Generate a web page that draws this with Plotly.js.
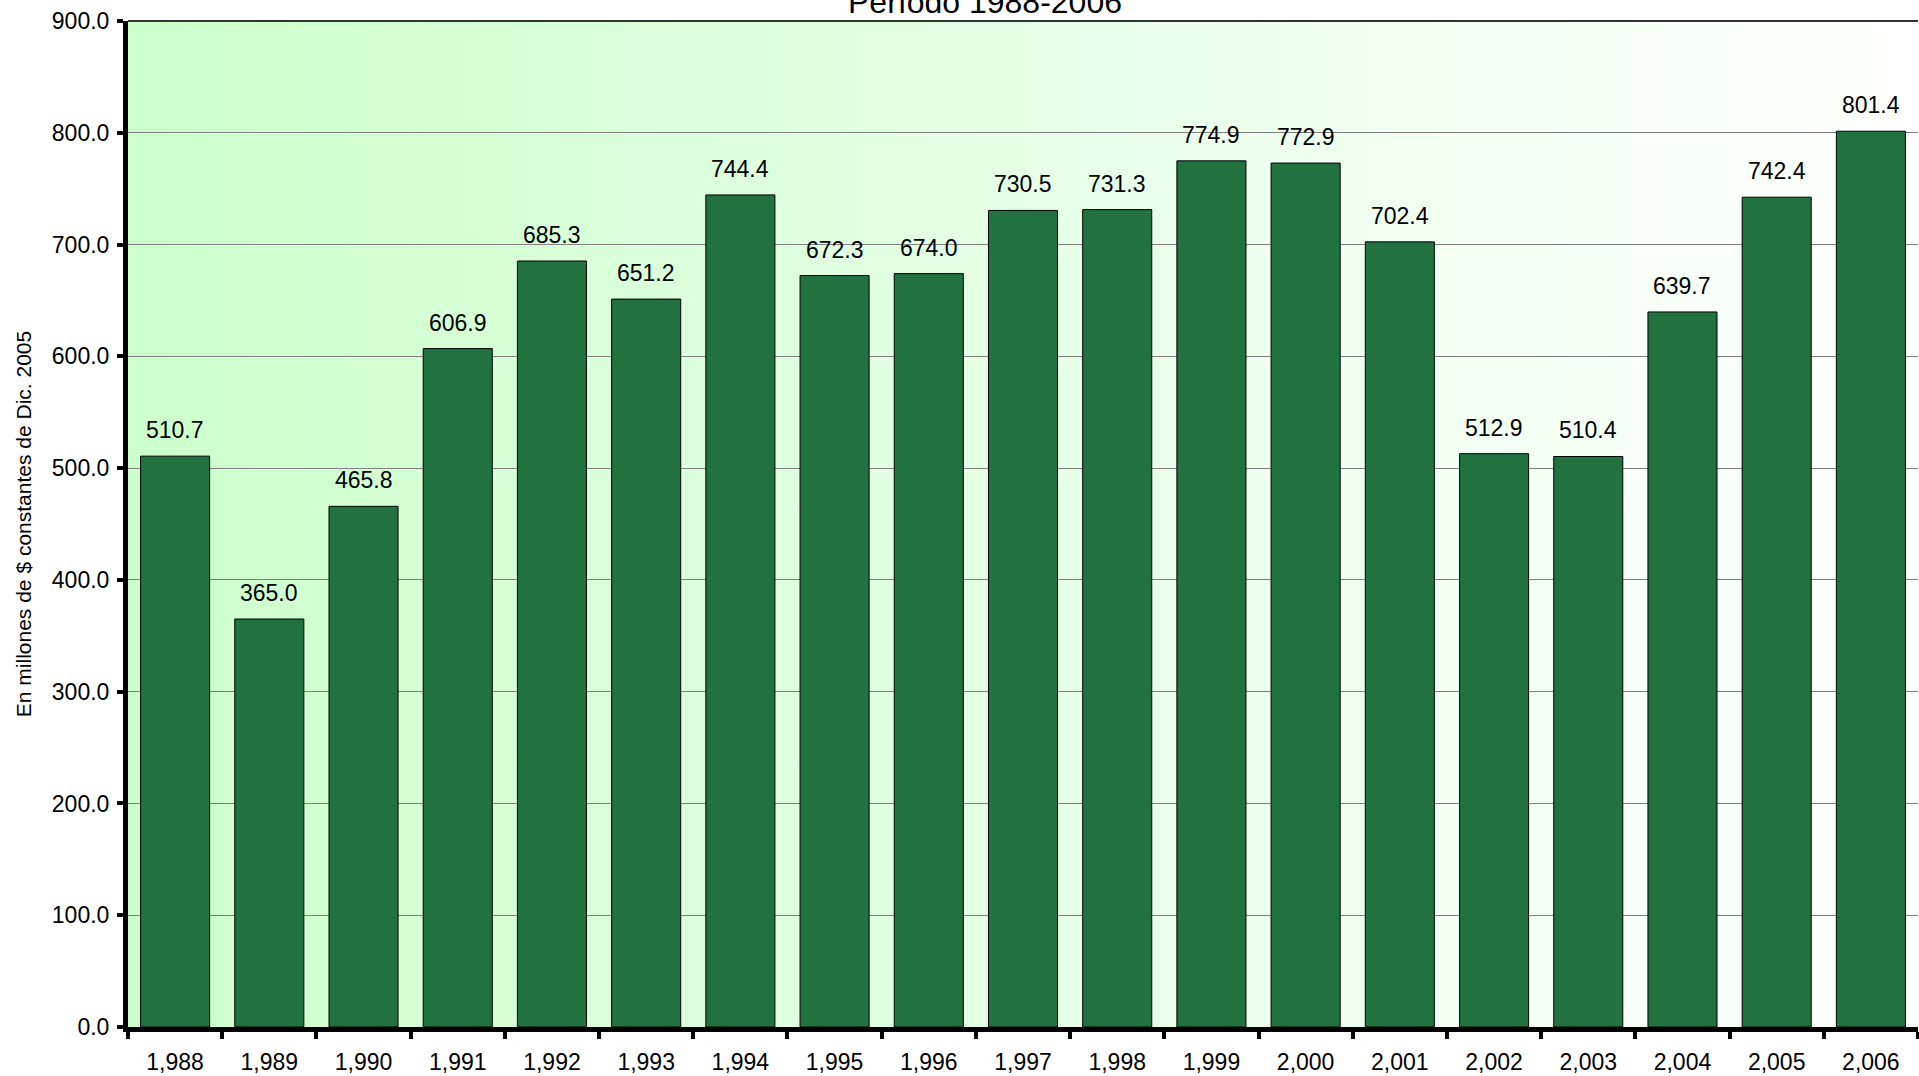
<!DOCTYPE html>
<html>
<head>
<meta charset="utf-8">
<script src="https://cdn.plot.ly/plotly-3.0.1.min.js"></script>
<style>
  html, body { margin: 0; padding: 0; background: #ffffff; }
  #chart { width: 1919px; height: 1076px; }
</style>
</head>
<body>
<div id="chart"></div>
<script>
// ---- data ----
const years = ["1,988", "1,989", "1,990", "1,991", "1,992", "1,993", "1,994", "1,995", "1,996", "1,997",
               "1,998", "1,999", "2,000", "2,001", "2,002", "2,003", "2,004", "2,005", "2,006"];
const values = [510.7, 365.0, 465.8, 606.9, 685.3, 651.2, 744.4, 672.3, 674.0, 730.5,
                731.3, 774.9, 772.9, 702.4, 512.9, 510.4, 639.7, 742.4, 801.4];
const chartTitle = "Período 1988-2006";
const yTitle = "En millones de $ constantes de Dic. 2005";

// ---- style ----
const FONT = "Liberation Sans, Arial, Helvetica, sans-serif";
const BAR_COLOR = "#21723F";

const gradSvg = "<svg xmlns='http://www.w3.org/2000/svg' width='200' height='100' preserveAspectRatio='none'>" +
  "<defs><linearGradient id='g' x1='0' y1='0' x2='1' y2='0'>" +
  "<stop offset='0' stop-color='#CCFFCC'/><stop offset='1' stop-color='#FFFFFF'/>" +
  "</linearGradient></defs><rect x='0' y='0' width='200' height='100' fill='url(#g)'/></svg>";
const gradUri = "data:image/svg+xml;charset=utf-8," + encodeURIComponent(gradSvg);

const trace = {
  type: "bar",
  x: years,
  y: values,
  marker: { color: BAR_COLOR, line: { color: "#000000", width: 1 } },
  hoverinfo: "x+y"
};

const labelAnnotations = years.map((yr, i) => ({
  x: yr, y: values[i], xref: "x", yref: "y",
  text: values[i].toFixed(1),
  showarrow: false, xanchor: "center", yanchor: "bottom", yshift: 11,
  font: { family: FONT, size: 23, color: "#000000" }
}));

const layout = {
  width: 1919, height: 1076,
  margin: { l: 128, r: 1, t: 21, b: 49, autoexpand: false },
  paper_bgcolor: "#FFFFFF",
  plot_bgcolor: "rgba(0,0,0,0)",
  showlegend: false,
  bargap: 0.267,
  font: { family: FONT, size: 23, color: "#000000" },
  xaxis: {
    type: "category",
    showgrid: false,
    showline: true, linecolor: "#000000", linewidth: 5,
    ticks: "outside", tickson: "boundaries", ticklen: 7, tickwidth: 4, tickcolor: "#000000",
    tickfont: { family: FONT, size: 23, color: "#000000" },
    ticklabelstandoff: 10,
    zeroline: false
  },
  yaxis: {
    range: [0, 900], dtick: 100, tick0: 0, tickformat: ".1f",
    showgrid: true, gridcolor: "#808080", gridwidth: 1,
    showline: true, linecolor: "#000000", linewidth: 5,
    ticks: "outside", ticklen: 6, tickwidth: 4, tickcolor: "#000000",
    tickfont: { family: FONT, size: 23, color: "#000000" },
    ticklabelstandoff: 3,
    zeroline: false,
    title: { text: yTitle, font: { family: FONT, size: 21, color: "#000000" }, standoff: 16 }
  },
  images: [{
    source: gradUri, xref: "paper", yref: "paper",
    x: 0, y: 1, sizex: 1, sizey: 1, xanchor: "left", yanchor: "top",
    sizing: "stretch", layer: "below"
  }],
  shapes: [{
    type: "line", xref: "paper", yref: "paper", x0: 0, x1: 1, y0: 1, y1: 1,
    line: { color: "#333333", width: 2 }
  }],
  annotations: [{
    text: chartTitle, xref: "paper", yref: "paper", x: 0.479, y: 1,
    xanchor: "center", yanchor: "bottom", yshift: -1, showarrow: false,
    font: { family: FONT, size: 32, color: "#000000" }
  }].concat(labelAnnotations)
};

Plotly.newPlot("chart", [trace], layout, { displayModeBar: false, staticPlot: true });
</script>
</body>
</html>
